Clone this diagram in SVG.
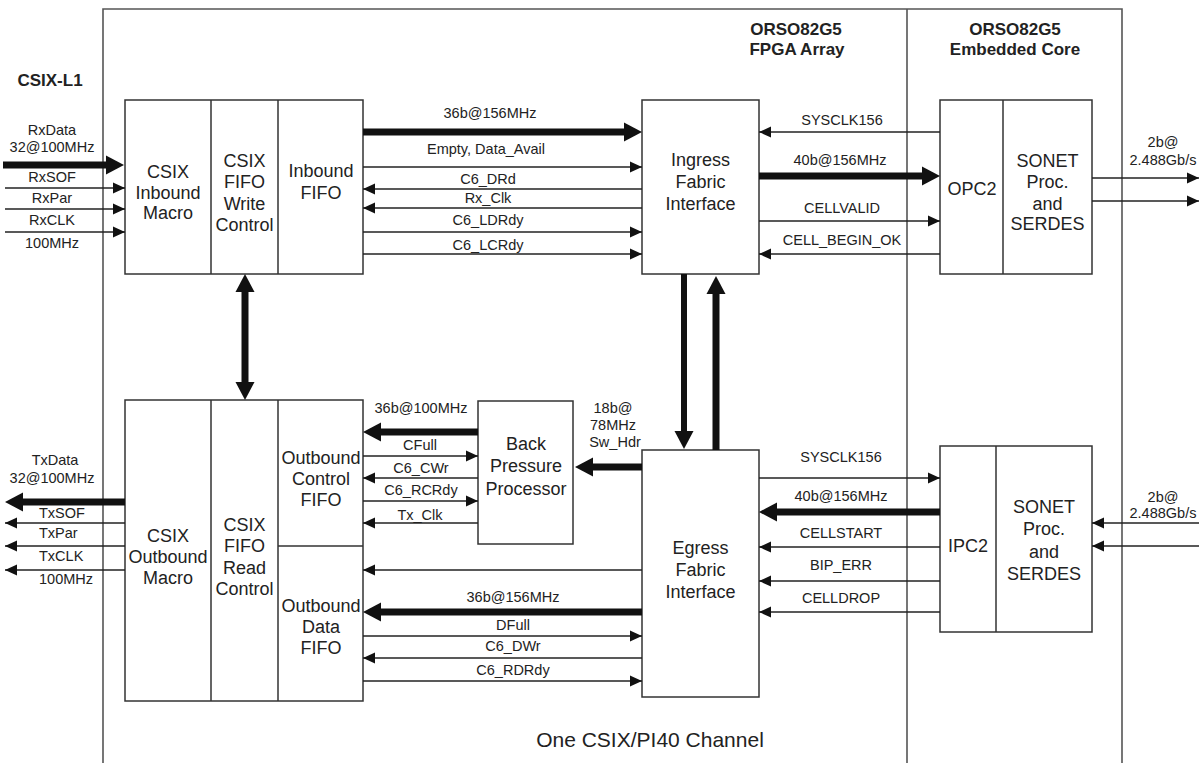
<svg xmlns="http://www.w3.org/2000/svg" width="1199" height="763" viewBox="0 0 1199 763">
<style>
.frame{fill:none;stroke:#555;stroke-width:1.6}
.box{fill:#fff;stroke:#333;stroke-width:1.5}
.div{fill:none;stroke:#333;stroke-width:1.5}
.w{fill:none;stroke:#222;stroke-width:1.3;marker-end:url(#a)}
.t{fill:none;stroke:#111;stroke-width:7;marker-end:url(#h)}
.t2{fill:none;stroke:#111;stroke-width:7;marker-start:url(#h);marker-end:url(#h)}
text{font-family:"Liberation Sans",Arial,Helvetica,sans-serif;fill:#222;text-anchor:middle}
.lb{font-size:14.5px}
.bx{font-size:18px}
.hd{font-size:17px;font-weight:bold}
.ttl{font-size:21px}
.st{text-anchor:start}
</style>
<defs>
<marker id="a" markerUnits="userSpaceOnUse" markerWidth="13" markerHeight="12" refX="12" refY="6" orient="auto"><path d="M0,0.5 L12,6 L0,11.5 z" fill="#111"/></marker>
<marker id="h" markerUnits="userSpaceOnUse" markerWidth="20" markerHeight="20" refX="1" refY="10" orient="auto-start-reverse"><path d="M0,0.5 L18,10 L0,19.5 z" fill="#111"/></marker>
</defs>
<rect width="1199" height="763" fill="#fff"/>
<g id="frame">
<path class="frame" d="M103,763 V9 H1122 V763 M907,9 V763"/>
<text class="hd" x="50" y="86">CSIX-L1</text>
<text class="hd" x="796" y="35">ORSO82G5</text>
<text class="hd" x="797" y="55">FPGA Array</text>
<text class="hd" x="1015" y="35">ORSO82G5</text>
<text class="hd" x="1015" y="55">Embedded Core</text>
<text class="ttl" x="650" y="747">One CSIX/PI40 Channel</text>
</g>
<g id="inbound">
<rect class="box" x="125" y="100" width="238" height="174"/>
<path class="div" d="M211,100 V274 M278,100 V274"/>
<text class="bx" x="168" y="178">CSIX</text>
<text class="bx" x="168" y="198.5">Inbound</text>
<text class="bx" x="168" y="219">Macro</text>
<text class="bx" x="244.5" y="166.5">CSIX</text>
<text class="bx" x="244.5" y="187.5">FIFO</text>
<text class="bx" x="244.5" y="209.5">Write</text>
<text class="bx" x="244.5" y="230.5">Control</text>
<text class="bx" x="321" y="176.5">Inbound</text>
<text class="bx" x="321" y="198.5">FIFO</text>
</g>
<g id="ingress">
<rect class="box" x="642" y="100" width="117" height="174"/>
<text class="bx" x="700.5" y="166">Ingress</text>
<text class="bx" x="700.5" y="188">Fabric</text>
<text class="bx" x="700.5" y="210">Interface</text>
</g>
<g id="opc2">
<rect class="box" x="940" y="100" width="152" height="174"/>
<path class="div" d="M1003,100 V274"/>
<text class="bx" x="972" y="194.5">OPC2</text>
<text class="bx" x="1047.5" y="166.5">SONET</text>
<text class="bx" x="1047.5" y="188">Proc.</text>
<text class="bx" x="1047.5" y="209.5">and</text>
<text class="bx" x="1047.5" y="230">SERDES</text>
</g>
<g id="outbound">
<rect class="box" x="125" y="400" width="238" height="301"/>
<path class="div" d="M211,400 V701 M278,400 V701 M278,546 H363"/>
<text class="bx" x="168" y="541.5">CSIX</text>
<text class="bx" x="168" y="562.5">Outbound</text>
<text class="bx" x="168" y="583.5">Macro</text>
<text class="bx" x="244.5" y="530.5">CSIX</text>
<text class="bx" x="244.5" y="551.5">FIFO</text>
<text class="bx" x="244.5" y="573.5">Read</text>
<text class="bx" x="244.5" y="594.5">Control</text>
<text class="bx" x="321" y="463.5">Outbound</text>
<text class="bx" x="321" y="484.5">Control</text>
<text class="bx" x="321" y="505.5">FIFO</text>
<text class="bx" x="321" y="611.5">Outbound</text>
<text class="bx" x="321" y="632.5">Data</text>
<text class="bx" x="321" y="653.5">FIFO</text>
</g>
<g id="backpressure">
<rect class="box" x="478" y="401" width="95" height="143"/>
<text class="bx" x="526" y="449.5">Back</text>
<text class="bx" x="526" y="472">Pressure</text>
<text class="bx" x="526" y="494.5">Processor</text>
</g>
<g id="egress">
<rect class="box" x="642" y="450" width="117" height="247"/>
<text class="bx" x="700.5" y="554">Egress</text>
<text class="bx" x="700.5" y="576">Fabric</text>
<text class="bx" x="700.5" y="598">Interface</text>
</g>
<g id="ipc2">
<rect class="box" x="940" y="446" width="152" height="186"/>
<path class="div" d="M996,446 V632"/>
<text class="bx" x="968" y="551.5">IPC2</text>
<text class="bx" x="1044" y="512.5">SONET</text>
<text class="bx" x="1044" y="535">Proc.</text>
<text class="bx" x="1044" y="557.5">and</text>
<text class="bx" x="1044" y="580">SERDES</text>
</g>
<g id="connectors">
<!-- left inputs -->
<path class="t" d="M3,165 H107"/>
<path class="w" d="M5,188 H125"/>
<path class="w" d="M5,209 H125"/>
<path class="w" d="M5,232 H125"/>
<text class="lb" x="52" y="135">RxData</text>
<text class="lb" x="52" y="152">32@100MHz</text>
<text class="lb" x="52" y="182">RxSOF</text>
<text class="lb" x="52" y="203">RxPar</text>
<text class="lb" x="52" y="225">RxCLK</text>
<text class="lb" x="52" y="248">100MHz</text>
<!-- inbound to ingress -->
<path class="t" d="M363,132 H625"/>
<path class="w" d="M363,167 H642"/>
<path class="w" d="M642,189 H363"/>
<path class="w" d="M642,208 H363"/>
<path class="w" d="M363,232 H642"/>
<path class="w" d="M363,254 H642"/>
<text class="lb" x="490" y="118">36b@156MHz</text>
<text class="lb" x="486" y="154">Empty, Data_Avail</text>
<text class="lb" x="488" y="184">C6_DRd</text>
<text class="lb" x="488" y="203">Rx_Clk</text>
<text class="lb" x="488" y="225">C6_LDRdy</text>
<text class="lb" x="488" y="250">C6_LCRdy</text>
<!-- ingress to opc2 -->
<path class="w" d="M940,132 H759"/>
<path class="t" d="M759,176 H923"/>
<path class="w" d="M759,221 H940"/>
<path class="w" d="M940,254 H759"/>
<text class="lb" x="842" y="125">SYSCLK156</text>
<text class="lb" x="840" y="165">40b@156MHz</text>
<text class="lb" x="842" y="213">CELLVALID</text>
<text class="lb" x="842" y="245">CELL_BEGIN_OK</text>
<path class="w" d="M1092,178 H1199"/>
<path class="w" d="M1092,201 H1199"/>
<text class="lb" x="1163" y="147">2b@</text>
<text class="lb" x="1163" y="165">2.488Gb/s</text>
<!-- verticals -->
<path class="t2" d="M245,291 V383"/>
<path class="t" style="stroke-width:6" d="M684,274 V432"/>
<path class="t" d="M716,450 V293"/>
<!-- left outputs -->
<path class="t" d="M125,502 H22"/>
<path class="w" d="M125,523 H5"/>
<path class="w" d="M125,546 H5"/>
<path class="w" d="M125,570 H5"/>
<text class="lb" x="55" y="465">TxData</text>
<text class="lb" x="52" y="483">32@100MHz</text>
<text class="lb st" x="39" y="518">TxSOF</text>
<text class="lb st" x="39" y="538">TxPar</text>
<text class="lb st" x="39" y="561">TxCLK</text>
<text class="lb st" x="39" y="584">100MHz</text>
<!-- back pressure to outbound control -->
<path class="t" d="M478,432 H380"/>
<path class="w" d="M363,456 H478"/>
<path class="w" d="M478,478 H363"/>
<path class="w" d="M363,501 H478"/>
<path class="w" d="M478,523 H363"/>
<text class="lb" x="421" y="413">36b@100MHz</text>
<text class="lb" x="420" y="450">CFull</text>
<text class="lb" x="421" y="473">C6_CWr</text>
<text class="lb" x="421" y="495">C6_RCRdy</text>
<text class="lb" x="420" y="520">Tx_Clk</text>
<!-- egress to back pressure -->
<path class="t" d="M642,467 H592"/>
<text class="lb" x="613" y="413">18b@</text>
<text class="lb" x="613" y="430">78MHz</text>
<text class="lb" x="615" y="447">Sw_Hdr</text>
<!-- egress to outbound data -->
<path class="w" d="M642,570 H363"/>
<path class="t" d="M642,612 H380"/>
<path class="w" d="M363,636 H642"/>
<path class="w" d="M642,658 H363"/>
<path class="w" d="M363,681 H642"/>
<text class="lb" x="513" y="602">36b@156MHz</text>
<text class="lb" x="513" y="630">DFull</text>
<text class="lb" x="513" y="651">C6_DWr</text>
<text class="lb" x="513" y="675">C6_RDRdy</text>
<!-- ipc2 to egress -->
<path class="w" d="M759,478 H940"/>
<path class="t" d="M940,512 H776"/>
<path class="w" d="M940,547 H759"/>
<path class="w" d="M940,581 H759"/>
<path class="w" d="M940,612 H759"/>
<text class="lb" x="841" y="462">SYSCLK156</text>
<text class="lb" x="841" y="501">40b@156MHz</text>
<text class="lb" x="841" y="538">CELLSTART</text>
<text class="lb" x="841" y="570">BIP_ERR</text>
<text class="lb" x="841" y="603">CELLDROP</text>
<path class="w" d="M1199,523 H1092"/>
<path class="w" d="M1199,546 H1092"/>
<text class="lb" x="1163" y="502">2b@</text>
<text class="lb" x="1163" y="518">2.488Gb/s</text>
</g>
</svg>
